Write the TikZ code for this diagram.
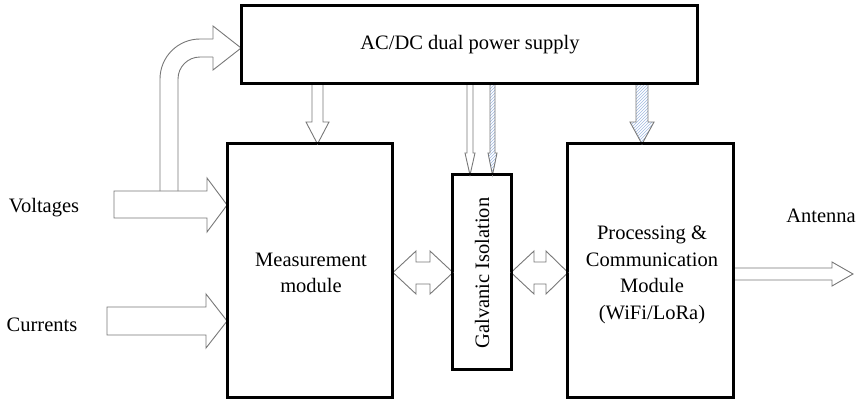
\documentclass[tikz,border=0pt]{standalone}
\usepackage{fontspec}
\setmainfont{Liberation Serif}
\usetikzlibrary{patterns}
\definecolor{arrgray}{RGB}{120,120,120}
\definecolor{hatchblue}{RGB}{160,185,225}
\begin{document}
\begin{tikzpicture}[x=1pt,y=-1pt,
  blockbox/.style={draw=black,line width=1.8pt,inner sep=0pt,fill=white},
  txt/.style={font=\fontsize{20.5}{26.5}\selectfont,align=center,inner sep=0pt},
  blockarrow/.style={draw=arrgray,line width=0.9pt,fill=white,line join=miter},
  hatcharrow/.style={draw=arrgray,line width=0.9pt,pattern=north east lines,pattern color=hatchblue,line join=miter}]
\useasboundingbox (0,0) rectangle (862,405);
% boxes
\node[blockbox,minimum width=455pt,minimum height=77pt] (ps) at (469.5,44.5) {};
\node[blockbox,minimum width=164pt,minimum height=253pt] (ms) at (310,270.5) {};
\node[blockbox,minimum width=58pt,minimum height=194pt] (gi) at (482,272) {};
\node[blockbox,minimum width=165pt,minimum height=253pt] (pc) at (650.5,270.5) {};
% texts
\node[txt] (pst) at (470,45) {AC/DC dual power supply};
\node[txt] (mst) at (311,273) {Measurement\\module};
\node[txt,rotate=90] (git) at (482,273) {Galvanic Isolation};
\node[txt] (pct) at (652,275) {Processing \&\\Communication\\Module\\(WiFi/LoRa)};
\node[txt] (vt) at (44,208) {Voltages};
\node[txt] (ct) at (42,325) {Currents};
\node[txt] (at) at (821,216) {Antenna};
% Voltages arrow
\draw[blockarrow] (114,191) -- (207,191) -- (207,178) -- (ms.west |- 0,205) -- (207,232) -- (207,218) -- (114,218) -- cycle;
% Currents arrow
\draw[blockarrow] (107,307) -- (206,307) -- (206,294) -- (ms.west |- 0,321) -- (206,348) -- (206,335) -- (107,335) -- cycle;
% curved arrow to power supply
\draw[draw=arrgray,line width=0.9pt,rounded corners=40pt] (160,191) -- (160,39) -- (213,39);
\draw[draw=arrgray,line width=0.9pt,line join=miter] (213,39) -- (213,26) -- (ps.west |- 0,48) -- (213,70) -- (213,57);
\draw[draw=arrgray,line width=0.9pt,rounded corners=22pt] (213,57) -- (178,57) -- (178,191);
% power supply -> measurement
\draw[blockarrow] (312,83) -- (312,122) -- (306,122) -- (317.5,144) -- (329,122) -- (323,122) -- (323,83);
% power supply -> galvanic (two thin)
\draw[blockarrow] (467,83) -- (467,153) -- (465,153) -- (470,175) -- (475,153) -- (473,153) -- (473,83);
\draw[hatcharrow] (490,83) -- (490,153) -- (488,153) -- (492.5,175) -- (497,153) -- (495,153) -- (495,83);
% power supply -> processing (hatched)
\draw[hatcharrow] (636,83) -- (636,122) -- (630,122) -- (642,144) -- (654,122) -- (648,122) -- (648,83);
% double arrows
\draw[blockarrow] (393,272.5) -- (416,251) -- (416,262) -- (430,262) -- (430,251) -- (453,272.5) -- (430,294) -- (430,284) -- (416,284) -- (416,294) -- cycle;
\draw[blockarrow] (511,272.5) -- (534,251) -- (534,262) -- (546,262) -- (546,251) -- (568,272.5) -- (546,294) -- (546,284) -- (534,284) -- (534,294) -- cycle;
% antenna arrow
\draw[blockarrow] (734,268) -- (832,268) -- (832,262) -- (853,274) -- (832,286) -- (832,280) -- (734,280);
% redraw box borders on top
\draw[line width=1.8pt] (ms.north west) rectangle (ms.south east);
\draw[line width=1.8pt] (gi.north west) rectangle (gi.south east);
\draw[line width=1.8pt] (pc.north west) rectangle (pc.south east);
\draw[line width=1.8pt] (ps.north west) rectangle (ps.south east);
\end{tikzpicture}
\end{document}
